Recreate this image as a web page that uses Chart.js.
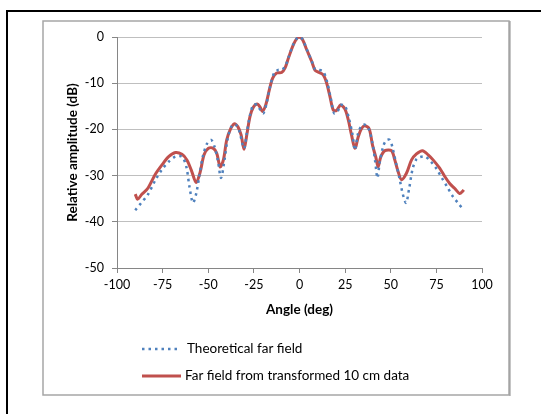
<!DOCTYPE html>
<html>
<head>
<meta charset="utf-8">
<script src="https://cdn.jsdelivr.net/npm/chart.js@4"></script>
<style>
  html, body { margin: 0; padding: 0; background: #fff; }
  canvas { display: block; }
</style>
</head>
<body>
<canvas id="myChart" width="541" height="414"></canvas>
<script>
// theoretical far field (dB vs angle)
const theoryAngles = [-90, -86.3, -83.2, -79, -75.4, -71.7, -68, -64.4, -62, -60.3, -58.4, -56.6, -54.8, -53, -50.8, -48.4, -46.6, -44.8, -43, -41.1, -39.3, -37.1, -34.9, -32.9, -31.1, -30.2, -28.9, -27.1, -25.3, -23.1, -21.1, -19.8, -18, -16.1, -13.9, -11.6, -9.8, -7.9, -6.1, -3.4, -1.2, 0, 1.7, 3.9, 6.7, 8.5, 10.3, 13, 15, 17, 19, 21, 22.5, 25, 27, 29, 30.4, 32, 34, 36, 38, 40, 41.5, 42.7, 44, 46, 47.7, 49.5, 51, 53, 55, 56.6, 58.4, 60, 62, 64, 66, 69, 72, 75, 78, 81, 84, 87, 90];
const theoryDb = [-37.5, -35.7, -34.2, -31, -28.7, -27, -25.9, -25.9, -28.1, -32.4, -35.9, -33.9, -29.9, -25.9, -23.2, -22.3, -23.7, -26.6, -30.5, -26.6, -21.9, -19.2, -19.0, -20.5, -23.4, -24.1, -20.8, -16.9, -14.7, -14.7, -16.1, -16.5, -14.3, -10.7, -7.8, -7.1, -7.1, -6.4, -4.5, -1.6, -0.2, 0, -0.5, -2.6, -5.2, -7.0, -7.1, -7.5, -9.5, -13, -16.5, -16, -14.7, -15, -17.5, -21, -24.5, -21, -19.2, -19, -20, -23, -27, -30.5, -27, -23.5, -22.3, -22.3, -24, -27.5, -31, -34, -35.9, -33, -28.5, -26.5, -26, -25.9, -27, -28.5, -30.5, -32.5, -34.5, -36, -37.5];

// far field from transformed 10 cm data
const measAngles = [-90, -88.7, -86.3, -83.2, -79, -75.4, -71.7, -68, -64.4, -61.7, -59.3, -56.6, -54.4, -52.3, -49.9, -47.2, -45.3, -43.5, -41.7, -39.9, -38, -35.8, -33.8, -32, -30.4, -28.9, -27.1, -25.3, -23.1, -21.6, -20.3, -18.5, -16.5, -14.7, -12.5, -9.8, -7.9, -6.1, -3.4, -1.2, 0, 1.7, 3.9, 6.7, 8.5, 10.3, 13, 14.9, 16.7, 18.5, 20.3, 22.5, 24.9, 26.7, 28.5, 30.4, 32.2, 34, 35.8, 38.2, 40, 41.8, 43.1, 44.5, 46.8, 50.4, 52.2, 54.1, 55.9, 58.6, 61.4, 64.1, 67.4, 70.5, 73.2, 76.8, 79.6, 82.3, 85.1, 87.8, 89.6, 90];
const measDb = [-34.0, -35.1, -34.0, -32.8, -29.7, -27.7, -25.9, -25.0, -25.4, -26.6, -28.8, -31.5, -29.2, -25.5, -24.1, -24.1, -25.2, -28.1, -26.6, -22.3, -20.1, -18.8, -19.4, -21.2, -24.3, -21.2, -17.2, -15.2, -14.5, -15.2, -16.1, -14.7, -11.4, -8.9, -7.8, -7.7, -6.7, -4.6, -1.7, -0.2, 0, -0.6, -2.7, -5.3, -7.2, -7.6, -8.2, -10, -12.9, -15.8, -15.9, -14.7, -15.6, -17.9, -21.2, -24.1, -21.6, -19.8, -19.2, -19.9, -23.4, -26.0, -28.1, -26.0, -24.6, -24.6, -26.6, -29.2, -30.9, -29.5, -26.6, -25.3, -24.6, -25.5, -26.6, -28.4, -30.2, -31.7, -32.8, -33.9, -33.3, -33.1];

const seriesNames = ["Theoretical far field", "Far field from transformed 10 cm data"];

const toPoints = (xs, ys) => xs.map((x, i) => ({ x: x, y: ys[i] }));

const fontFamily = "Lato, 'Noto Sans', sans-serif";

// frame + custom legend, like the excel figure
const framePlugin = {
    id: "frame",
    beforeDraw(chart) {
        const c = chart.ctx;
        c.save();
        c.fillStyle = "#fff";
        c.fillRect(0, 0, chart.width, chart.height);
        c.restore();
    },
    afterDraw(chart) {
        const c = chart.ctx;
        c.save();
        // outer black line (top + left)
        c.strokeStyle = "#000";
        c.lineWidth = 2;
        c.beginPath();
        c.moveTo(7, 414);
        c.lineTo(7, 11);
        c.lineTo(541, 11);
        c.stroke();
        // grey chart box
        c.strokeStyle = "#a6a6a6";
        c.lineWidth = 1.5;
        c.strokeRect(43, 21, 466, 374);
        c.strokeStyle = "#8c8c8c";
        c.lineWidth = 1;
        c.beginPath();
        c.moveTo(510, 21);
        c.lineTo(510, 396);
        c.stroke();

        // legend
        const rows = [
            { y: 349, x0: 142, x1: 178, tx: 187 },
            { y: 376, x0: 142, x1: 181, tx: 185 }
        ];
        chart.data.datasets.forEach((ds, i) => {
            const r = rows[i];
            c.strokeStyle = ds.borderColor;
            c.lineWidth = ds.borderWidth;
            c.setLineDash(ds.borderDash || []);
            c.beginPath();
            c.moveTo(r.x0, r.y);
            c.lineTo(r.x1, r.y);
            c.stroke();
            c.setLineDash([]);
            c.fillStyle = "#000";
            c.font = "13.5px " + fontFamily;
            c.textBaseline = "middle";
            c.fillText(ds.label, r.tx, r.y);
        });
        c.restore();
    }
};

const ctx = document.getElementById("myChart").getContext("2d");
new Chart(ctx, {
    type: "line",
    data: {
        datasets: [{
            label: seriesNames[0],
            data: toPoints(theoryAngles, theoryDb),
            borderColor: "#4f81bd",
            borderWidth: 2.5,
            borderDash: [2.5, 4],
            pointRadius: 0,
            tension: 0.3
        }, {
            label: seriesNames[1],
            data: toPoints(measAngles, measDb),
            borderColor: "#c0504d",
            borderWidth: 3,
            pointRadius: 0,
            tension: 0.3
        }]
    },
    options: {
        responsive: false,
        animation: false,
        layout: { padding: { left: 65, right: 59, top: 37, bottom: 96 } },
        plugins: {
            legend: { display: false },
            tooltip: { enabled: false }
        },
        scales: {
            x: {
                type: "linear",
                min: -100,
                max: 100,
                ticks: { stepSize: 25, padding: 4, color: "#000", font: { family: fontFamily, size: 12.5 } },
                grid: { drawOnChartArea: false, drawTicks: true, tickLength: 5, color: "#868686" },
                border: { color: "#868686" },
                title: { display: true, text: "Angle (deg)", color: "#000", padding: { top: 5, bottom: 0 },
                    font: { family: fontFamily, size: 13.5, weight: "bold" } },
                afterFit(scale) { scale.height = 50; }
            },
            y: {
                min: -50,
                max: 0,
                ticks: { stepSize: 10, padding: 8, color: "#000", font: { family: fontFamily, size: 12.5 } },
                grid: { color: "#bfbfbf", lineWidth: 1, tickLength: 5, tickColor: "#868686" },
                border: { color: "#868686" },
                title: { display: true, text: "Relative amplitude (dB)", color: "#000", padding: { top: 0, bottom: 0 },
                    font: { family: fontFamily, size: 13.5, weight: "bold" } },
                afterFit(scale) { scale.width = 52; }
            }
        }
    },
    plugins: [framePlugin]
});
</script>
</body>
</html>
